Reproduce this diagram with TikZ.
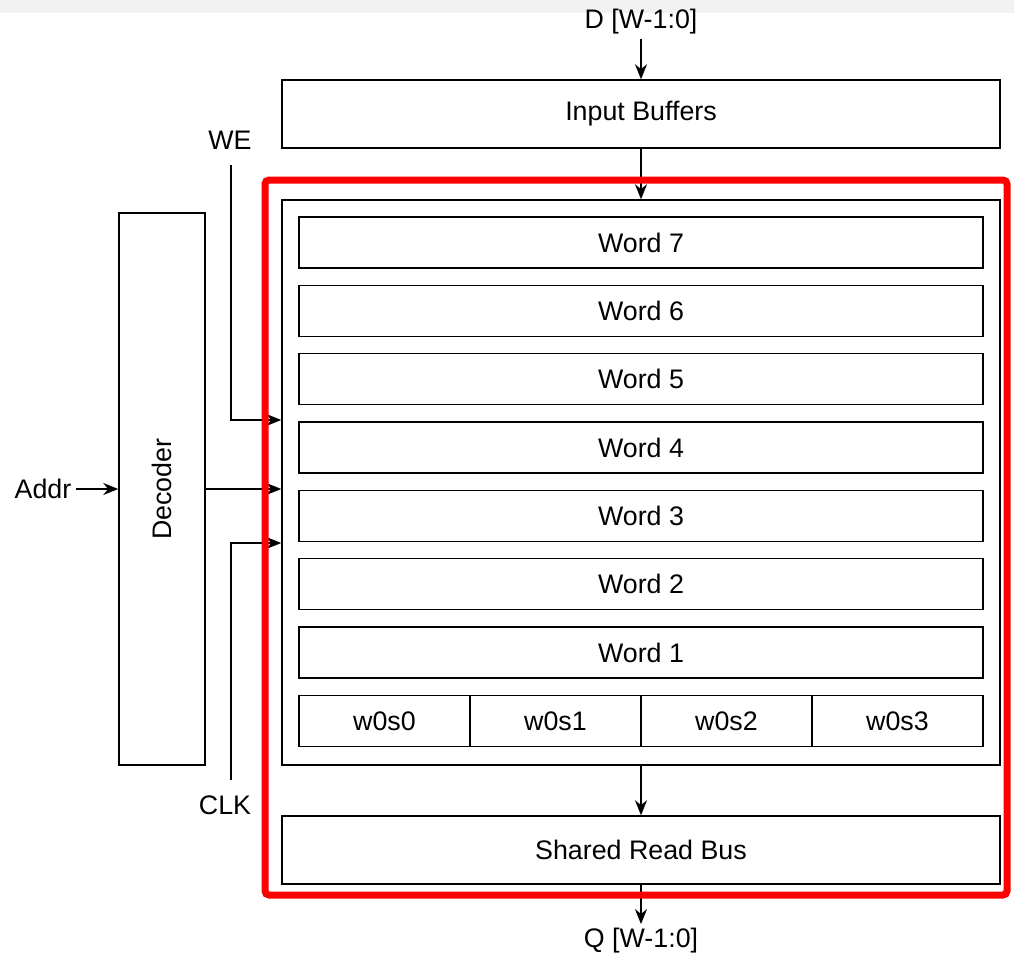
\documentclass[tikz,border=0pt]{standalone}
\usepackage{fontspec}
\setmainfont{Liberation Sans}
\usepackage{xcolor}
\usetikzlibrary{arrows.meta}

\tikzset{
    box/.style={draw=black, line width=0.75pt, inner sep=0pt, fill=white},
    arr/.style={draw=black, line width=0.7pt, -{Stealth[length=7.5pt,width=6pt]}},
    lbl/.style={inner sep=2pt}
}

\begin{document}
\begin{tikzpicture}[x=0.5pt,y=-0.5pt, every node/.append style={font=\fontsize{13.4}{16}\selectfont}]
        \useasboundingbox (0,0) rectangle (1014,959);
        \fill[gray!10] (0,0) rectangle (1014,13);

        % Top
        \node[lbl] (dlabel) at (641,22) {D [W-1:0]};
        \node[box, minimum width=359pt, minimum height=34pt] (inbuf) at (641,114) {Input Buffers};

        % Memory array
        \node[box, minimum width=359pt, minimum height=282.5pt] (array) at (641,482.5) {};
        \foreach \i in {7,...,1}{
            \node[box, minimum width=342pt, minimum height=25.5pt] (word\i) at (641,{242.5+(7-\i)*68.33}) {Word \i};
        }
        \foreach \s [count=\k from 0] in {384.5,555.5,726.5,897.5}{
            \node[box, minimum width=85.5pt, minimum height=25.5pt] (seg\k) at (\s,720.8) {w0s\k};
        }

        % Bottom
        \node[box, minimum width=359pt, minimum height=34pt] (bus) at (641,850) {Shared Read Bus};
        \node[lbl] (qlabel) at (641,941) {Q [W-1:0]};

        % Left side
        \node[box, minimum width=43pt, minimum height=276pt] (decoder) at (162,489) {\rotatebox{90}{Decoder}};
        \node[lbl] (addr) at (43,489) {Addr};
        \node[lbl] (we) at (230,140) {WE};
        \node[lbl] (clk) at (225,805) {CLK};
        \coordinate (wetop) at (231,165);
        \coordinate (clkbot) at (231,780);

        % Connectors
        \draw[arr] (dlabel.south) -- (inbuf.north);
        \draw[arr] (inbuf.south) -- (array.north);
        \draw[arr] (array.south) -- (bus.north);
        \draw[arr] (bus.south) -- (qlabel.north);
        \draw[arr] (addr.east) -- (decoder.west);
        \draw[arr] (decoder.east) -- (decoder.east -| array.west);
        \draw[arr] (wetop) |- ([yshift=31.25pt]array.west);
        \draw[arr] (clkbot) |- ([yshift=-30.25pt]array.west);

        % Highlight
        \draw[red, line width=3.5pt, rounded corners=2pt] (265,180) rectangle (1007,895);
\end{tikzpicture}
\end{document}
